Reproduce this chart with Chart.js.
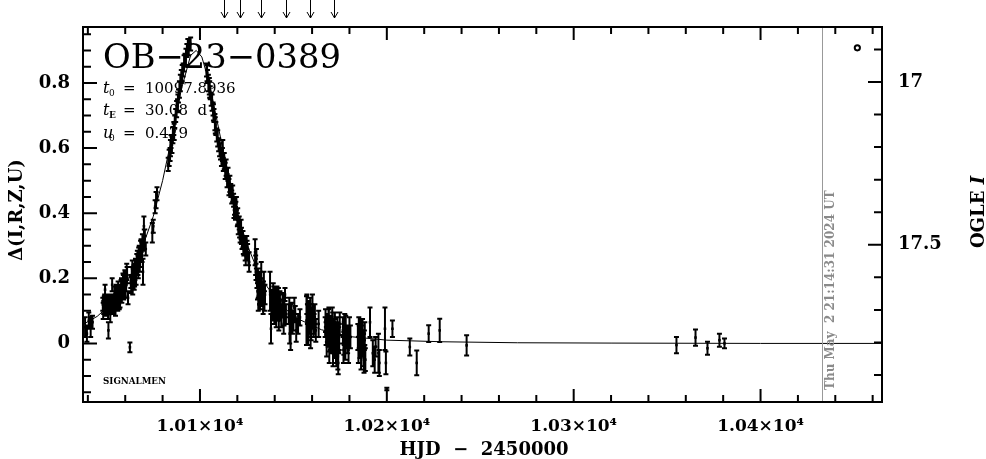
<!DOCTYPE html>
<html lang="en">
<head>
<meta charset="UTF-8" />
<title>OB-23-0389 light curve</title>
<script src="https://cdn.jsdelivr.net/npm/chart.js"></script>
<style>
  body { margin: 0; background: #fff; }
  #wrap { width: 986px; height: 459px; }
</style>
</head>
<body>
<div id="wrap"><canvas id="lc" width="986" height="459"></canvas></div>
<script>
// ---- data (HJD - 2450000, delta mag, error) ----
const hjd = [
  10038.5, 10039.5, 10040.5, 10041.5, 10042.5,
  10048.0, 10048.5, 10049.0, 10049.2, 10049.5, 10050.0, 10050.5, 10051.0, 10052.0, 10052.5, 10053.0, 10053.5,
  10054.0, 10054.5, 10055.0, 10055.5, 10056.0, 10056.5, 10057.0, 10057.5, 10058.0, 10058.5, 10059.0, 10059.5,
  10060.0, 10060.5, 10061.0, 10061.5, 10062.5,
  10063.0, 10063.5, 10064.0, 10064.5, 10065.0, 10065.5, 10066.0, 10066.5, 10067.0, 10067.5, 10068.0, 10068.5,
  10069.0, 10069.5, 10070.0, 10070.5, 10071.0,
  10074.5, 10075.0, 10076.0, 10076.5, 10077.0,
  10083.0, 10084.0, 10084.5, 10085.0, 10086.0, 10086.5, 10087.0, 10088.0, 10088.5, 10089.0, 10090.0, 10091.0,
  10092.0, 10093.0, 10094.0, 10095.0,
  10103.5, 10104.0, 10105.0, 10105.5, 10106.0, 10107.0, 10107.5, 10108.0, 10108.5, 10109.0, 10110.0, 10111.0,
  10112.0, 10112.5, 10113.0, 10114.5, 10115.0, 10115.5, 10116.5, 10117.0, 10118.0, 10118.5, 10119.0, 10119.5,
  10120.0, 10120.5, 10121.0, 10121.5, 10122.0, 10122.5, 10123.0, 10123.5, 10124.0, 10124.5, 10125.0, 10125.5, 10126.0,
  10129.5, 10130.0, 10130.5, 10131.0, 10131.2, 10131.5, 10132.0, 10132.5, 10133.0, 10133.5, 10134.0, 10134.5,
  10137.5, 10138.0, 10138.5, 10139.0, 10139.5, 10140.0, 10140.5, 10141.0, 10141.5, 10142.0, 10142.5, 10143.0,
  10144.0, 10144.5, 10145.0, 10145.5,
  10147.5, 10148.5, 10149.0, 10150.0, 10151.0, 10152.5, 10153.5,
  10157.0, 10157.5, 10158.0, 10158.5, 10159.0, 10159.5, 10160.0, 10160.5, 10161.0, 10163.5,
  10167.0, 10167.5, 10168.0, 10168.5, 10169.0, 10169.5, 10170.0, 10170.5, 10171.0, 10171.5, 10172.0, 10172.5,
  10173.0, 10173.5, 10174.0, 10174.5,
  10176.5, 10177.0, 10177.5, 10178.5, 10179.5, 10180.0,
  10184.5, 10185.0, 10185.5, 10186.0, 10186.5, 10187.0, 10187.5, 10188.0, 10188.5,
  10191.0, 10192.5, 10193.5, 10194.0, 10195.5, 10196.0,
  10199.0, 10199.5, 10200.0, 10203.0,
  10212.3, 10216.0, 10222.4, 10228.3, 10242.7,
  10355.0, 10365.2, 10371.6, 10378.0, 10380.7
];
const delta = [
  0.05, 0.03, 0.07, 0.05, 0.065,
  0.12, 0.11, 0.13, 0.165, 0.12, 0.105, 0.12, 0.04, 0.09, 0.13, 0.18, 0.11,
  0.12, 0.14, 0.13, 0.15, 0.12, 0.14, 0.16, 0.15, 0.18, 0.16, 0.19, 0.17,
  0.20, 0.18, 0.21, 0.14, -0.012,
  0.19, 0.21, 0.17, 0.22, 0.20, 0.24, 0.23, 0.26, 0.22, 0.28, 0.26, 0.30,
  0.27, 0.22, 0.36, 0.33, 0.29,
  0.34, 0.36, 0.42, 0.44, 0.46,
  0.55, 0.58, 0.62, 0.61, 0.66, 0.68, 0.70, 0.73, 0.76, 0.78, 0.82, 0.84,
  0.87, 0.90, 0.91, 0.92,
  0.84, 0.82, 0.79, 0.77, 0.75, 0.72, 0.70, 0.68, 0.66, 0.64, 0.61, 0.59,
  0.58, 0.55, 0.56, 0.50, 0.52, 0.48, 0.47, 0.45, 0.44, 0.42, 0.40, 0.43,
  0.38, 0.36, 0.37, 0.33, 0.35, 0.31, 0.32, 0.29, 0.30, 0.27, 0.31, 0.28, 0.26,
  0.28, 0.22, 0.19, 0.21, 0.12, 0.17, 0.20, 0.15, 0.18, 0.14, 0.17, 0.13,
  0.16, 0.045, 0.14, 0.12, 0.15, 0.11, 0.13, 0.10, 0.12, 0.14, 0.09, 0.11,
  0.10, 0.12, 0.08, 0.15,
  0.09, 0.05, 0.10, 0.07, 0.09, 0.06, 0.08,
  0.07, 0.09, 0.05, 0.08, 0.11, 0.04, 0.07, 0.10, 0.06, 0.06,
  0.05, 0.03, 0.06, 0.02, 0.08, 0.01, 0.04, 0.00, 0.06, 0.02, -0.01, 0.03,
  -0.03, 0.05, -0.06, 0.02,
  0.04, 0.00, 0.06, 0.02, -0.02, 0.05,
  0.02, 0.05, -0.01, 0.03, 0.00, 0.04, -0.03, 0.01, -0.05,
  0.065, -0.03, -0.05, -0.01, -0.03, -0.06,
  0.045, -0.06, -0.14, 0.045,
  -0.011, -0.06, 0.03, 0.04, -0.006,
  -0.005, 0.018, -0.015, 0.01, 0.0
];
const err = [
  0.03, 0.025, 0.025, 0.03, 0.02,
  0.02, 0.02, 0.02, 0.015, 0.015, 0.02, 0.02, 0.025, 0.025, 0.02, 0.02, 0.02,
  0.02, 0.02, 0.025, 0.02, 0.02, 0.02, 0.02, 0.025, 0.02, 0.02, 0.02, 0.025,
  0.02, 0.02, 0.025, 0.02, 0.015,
  0.02, 0.025, 0.02, 0.02, 0.025, 0.02, 0.02, 0.025, 0.02, 0.02, 0.025, 0.02,
  0.02, 0.04, 0.03, 0.02, 0.02,
  0.03, 0.02, 0.02, 0.025, 0.02,
  0.02, 0.02, 0.02, 0.025, 0.02, 0.02, 0.02, 0.02, 0.02, 0.025, 0.02, 0.02,
  0.02, 0.02, 0.025, 0.02,
  0.02, 0.02, 0.025, 0.02, 0.02, 0.02, 0.02, 0.025, 0.02, 0.02, 0.02, 0.025,
  0.02, 0.02, 0.025, 0.02, 0.02, 0.025, 0.02, 0.02, 0.02, 0.025, 0.02, 0.02,
  0.02, 0.025, 0.02, 0.02, 0.03, 0.02, 0.025, 0.02, 0.02, 0.03, 0.02, 0.025, 0.02,
  0.04, 0.025, 0.02, 0.02, 0.02, 0.025, 0.02, 0.03, 0.02, 0.025, 0.02, 0.03,
  0.06, 0.045, 0.025, 0.02, 0.025, 0.02, 0.02, 0.03, 0.02, 0.03, 0.02, 0.025,
  0.02, 0.03, 0.025, 0.02,
  0.03, 0.07, 0.025, 0.03, 0.025, 0.03, 0.025,
  0.075, 0.03, 0.03, 0.025, 0.03, 0.03, 0.025, 0.02, 0.03, 0.04,
  0.03, 0.035, 0.03, 0.03, 0.03, 0.035, 0.03, 0.03, 0.035, 0.03, 0.035, 0.03,
  0.04, 0.03, 0.035, 0.04,
  0.04, 0.035, 0.03, 0.035, 0.04, 0.03,
  0.04, 0.03, 0.035, 0.04, 0.03, 0.035, 0.04, 0.03, 0.035,
  0.045, 0.04, 0.04, 0.03, 0.06, 0.04,
  0.065, 0.035, 0.004, 0.025,
  0.026, 0.038, 0.026, 0.036, 0.031,
  0.025, 0.025, 0.02, 0.02, 0.015
];

// second pass of points read from the dense clumps
const hjd2 = [
  10048.2, 10048.8, 10049.8, 10050.2, 10050.8, 10051.5, 10052.2, 10053.2,
  10054.2, 10054.8, 10055.2, 10055.8, 10056.2, 10056.8, 10057.2, 10057.8, 10058.2, 10058.8, 10059.2, 10059.8,
  10060.2, 10060.8,
  10063.2, 10063.8, 10064.2, 10064.8, 10065.2, 10065.8, 10066.2, 10066.8, 10067.2, 10067.8, 10068.2, 10068.8,
  10069.2, 10070.2,
  10083.5, 10084.2, 10085.5, 10086.2, 10087.5, 10088.2, 10089.5, 10090.5, 10091.5, 10092.5, 10093.5,
  10103.8, 10104.5, 10105.2, 10106.5, 10107.2, 10108.2, 10109.5, 10110.5, 10111.5, 10112.2, 10113.5, 10114.0,
  10116.0, 10117.5, 10118.2, 10119.2, 10120.2, 10121.2, 10122.2, 10123.2, 10124.2, 10125.2, 10126.3,
  10129.8, 10130.2, 10130.8, 10131.8, 10132.2, 10132.8, 10133.2, 10133.8, 10134.2, 10134.8,
  10138.2, 10138.8, 10139.2, 10139.8, 10140.2, 10140.8, 10141.2, 10141.8, 10142.2, 10142.8, 10143.5, 10144.2,
  10144.8, 10145.2, 10146.0,
  10147.8, 10148.0, 10149.5, 10150.5, 10151.5,
  10157.2, 10157.8, 10158.2, 10158.8, 10159.2, 10159.8, 10160.2, 10160.8, 10161.5, 10162.0,
  10167.2, 10167.8, 10168.2, 10168.8, 10169.2, 10169.8, 10170.2, 10170.8, 10171.2, 10171.8, 10172.2, 10172.8,
  10173.2, 10173.8, 10174.2, 10174.8,
  10176.8, 10177.2, 10177.8, 10178.0, 10179.0, 10180.5,
  10184.8, 10185.2, 10185.8, 10186.2, 10186.8, 10187.2, 10187.8, 10188.2
];
const delta2 = [
  0.10, 0.125, 0.115, 0.13, 0.10, 0.12, 0.11, 0.12,
  0.15, 0.11, 0.16, 0.13, 0.17, 0.13, 0.14, 0.17, 0.15, 0.19, 0.16, 0.20,
  0.17, 0.22,
  0.18, 0.23, 0.20, 0.19, 0.22, 0.21, 0.25, 0.24, 0.27, 0.25, 0.29, 0.28,
  0.31, 0.32,
  0.57, 0.60, 0.64, 0.65, 0.72, 0.74, 0.80, 0.83, 0.86, 0.88, 0.91,
  0.83, 0.80, 0.78, 0.74, 0.71, 0.67, 0.63, 0.60, 0.57, 0.60, 0.53, 0.54,
  0.49, 0.46, 0.41, 0.41, 0.39, 0.35, 0.33, 0.30, 0.28, 0.29, 0.25,
  0.24, 0.26, 0.16, 0.19, 0.13, 0.22, 0.16, 0.12, 0.19, 0.15,
  0.12, 0.10, 0.16, 0.09, 0.14, 0.08, 0.15, 0.10, 0.07, 0.13, 0.08, 0.13,
  0.06, 0.11, 0.09,
  0.11, 0.03, 0.06, 0.11, 0.04,
  0.12, 0.03, 0.10, 0.06, 0.02, 0.08, 0.12, 0.05, 0.09, 0.04,
  0.07, 0.00, 0.04, 0.07, -0.02, 0.05, 0.02, 0.08, -0.03, 0.04, 0.06, -0.02,
  0.03, -0.04, 0.01, 0.06,
  -0.02, 0.03, -0.01, 0.05, 0.01, 0.02,
  -0.02, 0.02, 0.04, -0.04, 0.02, 0.00, -0.05, 0.03
];
const err2 = [
  0.025, 0.02, 0.02, 0.02, 0.025, 0.025, 0.02, 0.025,
  0.025, 0.025, 0.02, 0.025, 0.02, 0.025, 0.03, 0.025, 0.025, 0.025, 0.025, 0.025,
  0.03, 0.025,
  0.025, 0.025, 0.03, 0.025, 0.025, 0.03, 0.025, 0.03, 0.025, 0.03, 0.025, 0.03,
  0.025, 0.03,
  0.025, 0.025, 0.025, 0.025, 0.025, 0.025, 0.025, 0.025, 0.025, 0.025, 0.025,
  0.025, 0.025, 0.025, 0.025, 0.025, 0.025, 0.025, 0.025, 0.025, 0.025, 0.025, 0.025,
  0.025, 0.025, 0.025, 0.025, 0.025, 0.025, 0.025, 0.025, 0.025, 0.025, 0.03,
  0.03, 0.03, 0.025, 0.03, 0.025, 0.03, 0.03, 0.03, 0.03, 0.03,
  0.03, 0.03, 0.025, 0.03, 0.03, 0.03, 0.025, 0.03, 0.03, 0.03, 0.03, 0.025,
  0.03, 0.03, 0.03,
  0.03, 0.03, 0.03, 0.03, 0.035,
  0.03, 0.035, 0.03, 0.03, 0.035, 0.03, 0.03, 0.03, 0.03, 0.035,
  0.035, 0.04, 0.035, 0.035, 0.04, 0.035, 0.04, 0.03, 0.04, 0.035, 0.035, 0.04,
  0.035, 0.04, 0.04, 0.035,
  0.04, 0.035, 0.04, 0.035, 0.04, 0.035,
  0.04, 0.035, 0.035, 0.04, 0.035, 0.04, 0.04, 0.035
];

// model curve
const modelHjd = [10037, 10045, 10055, 10065, 10075, 10080, 10085, 10090, 10095, 10098, 10101, 10105,
  10110, 10115, 10120, 10125, 10130, 10135, 10140, 10150, 10165, 10180, 10200, 10230, 10270, 10320, 10400, 10465];
const modelDelta = [0.057, 0.083, 0.135, 0.227, 0.39, 0.50, 0.635, 0.78, 0.885, 0.90, 0.88, 0.80,
  0.66, 0.52, 0.40, 0.307, 0.236, 0.182, 0.141, 0.082, 0.042, 0.021, 0.010, 0.005, 0.002, 0.001, 0.0, 0.0];

const markHjd = [10451.8];
const markDelta = [0.908];
const arrowHjd = [10112.8, 10121.4, 10132.6, 10146.0, 10158.8, 10171.6];
const nowHjd = 10433.1;
const magZero = 17.803;   // OGLE I = magZero - delta

const allHjd = hjd.concat(hjd2);
const allDelta = delta.concat(delta2);
const allErr = err.concat(err2);

const xMin = 10037.4, xMax = 10465;
const yMin = -0.18, yMax = 0.972;

const FONT = 'DejaVu Serif';

function isMult(v, m) {
  return Math.abs(v / m - Math.round(v / m)) < 1e-6;
}

const errorBars = {
  id: 'errorBars',
  beforeDatasetsDraw(chart) {
    const { ctx, scales: { x, y } } = chart;
    ctx.save();
    ctx.strokeStyle = '#000';
    ctx.lineWidth = 2;
    ctx.beginPath();
    for (let i = 0; i < allHjd.length; i++) {
      const px = x.getPixelForValue(allHjd[i]);
      const y1 = y.getPixelForValue(allDelta[i] + allErr[i]);
      const y2 = y.getPixelForValue(allDelta[i] - allErr[i]);
      ctx.moveTo(px, y1); ctx.lineTo(px, y2);
      ctx.moveTo(px - 2.5, y1); ctx.lineTo(px + 2.5, y1);
      ctx.moveTo(px - 2.5, y2); ctx.lineTo(px + 2.5, y2);
    }
    ctx.stroke();
    ctx.restore();
  }
};

const frame = {
  id: 'frame',
  afterDraw(chart) {
    const { ctx, chartArea: a, scales } = chart;
    const x = scales.x, y = scales.y, y2 = scales.y2;
    ctx.save();

    // now line
    const nx = Math.round(x.getPixelForValue(nowHjd)) + 0.5;
    ctx.strokeStyle = '#999';
    ctx.lineWidth = 1;
    ctx.beginPath();
    ctx.moveTo(nx, a.top); ctx.lineTo(nx, a.bottom);
    ctx.stroke();

    // frame + inward ticks
    ctx.strokeStyle = '#000';
    ctx.lineWidth = 2;
    ctx.strokeRect(a.left, a.top, a.right - a.left, a.bottom - a.top);
    ctx.beginPath();
    x.ticks.forEach(t => {
      const px = x.getPixelForValue(t.value);
      const len = isMult(t.value, 100) ? 13 : 7;
      ctx.moveTo(px, a.bottom); ctx.lineTo(px, a.bottom - len);
      ctx.moveTo(px, a.top); ctx.lineTo(px, a.top + len);
    });
    y.ticks.forEach(t => {
      const py = y.getPixelForValue(t.value);
      const len = isMult(t.value, 0.2) ? 14 : 8;
      ctx.moveTo(a.left, py); ctx.lineTo(a.left + len, py);
    });
    y2.ticks.forEach(t => {
      const py = y2.getPixelForValue(t.value);
      const len = isMult(t.value, 0.5) ? 14 : 8;
      ctx.moveTo(a.right, py); ctx.lineTo(a.right - len, py);
    });
    ctx.stroke();

    // arrows above the frame
    ctx.lineWidth = 1;
    ctx.beginPath();
    arrowHjd.forEach(v => {
      const px = Math.round(x.getPixelForValue(v)) + 0.5;
      ctx.moveTo(px, 0); ctx.lineTo(px, 18);
      ctx.moveTo(px - 3.5, 12); ctx.lineTo(px, 18); ctx.lineTo(px + 3.5, 12);
    });
    ctx.stroke();

    ctx.fillStyle = '#000';
    ctx.textBaseline = 'alphabetic';
    ctx.textAlign = 'left';

    // event name
    ctx.font = '34px ' + FONT;
    ctx.fillText('OB\u221223\u22120389', 103, 68, 238);

    // parameters
    const param = (sym, sub, subBold, val, base) => {
      ctx.font = 'italic 16px ' + FONT;
      ctx.fillText(sym, 103, base);
      ctx.font = (subBold ? 'bold ' : '') + '9px ' + FONT;
      ctx.fillText(sub, 109, base + 3);
      ctx.font = '15px ' + FONT;
      ctx.fillText('=', 123, base);
      ctx.fillText(val, 145, base);
    };
    param('t', '0', false, '10097.8936', 93);
    param('t', 'E', true, '30.08  d', 115);
    param('u', '0', false, '0.479', 138);

    ctx.font = 'bold 9px ' + FONT;
    ctx.fillText('SIGNALMEN', 103, 384, 63);

    // axis titles
    ctx.font = 'bold 18px ' + FONT;
    ctx.textAlign = 'center';
    ctx.fillText('HJD  \u2212  2450000', 484, 455);

    ctx.save();
    ctx.translate(22, 210);
    ctx.rotate(-Math.PI / 2);
    ctx.fillText('\u0394(I,R,Z,U)', 0, 0);
    ctx.restore();

    ctx.save();
    ctx.translate(984, 212);
    ctx.rotate(-Math.PI / 2);
    ctx.textAlign = 'left';
    ctx.font = 'bold 18px ' + FONT;
    const w1 = ctx.measureText('OGLE ').width;
    ctx.font = 'bold italic 18px ' + FONT;
    const w2 = ctx.measureText('I').width;
    ctx.font = 'bold 18px ' + FONT;
    ctx.fillText('OGLE ', -(w1 + w2) / 2, 0);
    ctx.font = 'bold italic 18px ' + FONT;
    ctx.fillText('I', -(w1 + w2) / 2 + w1, 0);
    ctx.restore();

    // timestamp
    ctx.save();
    ctx.translate(834, 390);
    ctx.rotate(-Math.PI / 2);
    ctx.textAlign = 'left';
    ctx.fillStyle = '#8a8a8a';
    ctx.font = 'bold 12px ' + FONT;
    ctx.fillText('Thu May  2 21:14:31 2024 UT', 0, 0, 203);
    ctx.restore();

    ctx.restore();
  }
};

const tickFont = { family: FONT, weight: 'bold', size: 18 };
const noGrid = { display: false, drawTicks: false };

new Chart(document.getElementById('lc').getContext('2d'), {
  data: {
    datasets: [
      {
        type: 'line',
        data: modelHjd.map((t, i) => ({ x: t, y: modelDelta[i] })),
        borderColor: '#000',
        borderWidth: 1,
        pointRadius: 0,
        tension: 0
      },
      {
        type: 'scatter',
        data: allHjd.map((t, i) => ({ x: t, y: allDelta[i] })),
        pointStyle: 'rect',
        pointRadius: 1.8,
        backgroundColor: '#000',
        borderWidth: 0
      },
      {
        type: 'scatter',
        data: markHjd.map((t, i) => ({ x: t, y: markDelta[i] })),
        pointStyle: 'circle',
        pointRadius: 2.6,
        borderWidth: 2,
        borderColor: '#000',
        backgroundColor: '#fff'
      }
    ]
  },
  options: {
    responsive: false,
    animation: false,
    devicePixelRatio: 1,
    layout: { padding: 0 },
    plugins: { legend: { display: false }, tooltip: { enabled: false } },
    scales: {
      x: {
        type: 'linear', position: 'bottom', min: xMin, max: xMax,
        afterFit: s => { s.height = 57; },
        grid: noGrid, border: { display: false },
        ticks: {
          stepSize: 20, includeBounds: false, autoSkip: false, maxRotation: 0,
          padding: 14, color: '#000', font: { family: FONT, weight: 'bold', size: 17 },
          callback: v => isMult(v, 100) ? (v / 10000).toFixed(2) + '\u00d710\u2074' : ''
        }
      },
      x2: {
        type: 'linear', position: 'top', min: xMin, max: xMax,
        afterFit: s => { s.height = 27; },
        grid: noGrid, border: { display: false },
        ticks: { stepSize: 20, includeBounds: false, callback: () => '' }
      },
      y: {
        type: 'linear', position: 'left', min: yMin, max: yMax,
        afterFit: s => { s.width = 83; },
        grid: noGrid, border: { display: false },
        ticks: {
          stepSize: 0.05, includeBounds: false, autoSkip: false,
          padding: 13, color: '#000', font: tickFont,
          callback: v => isMult(v, 0.2) ? (Math.abs(v) < 1e-9 ? '0' : v.toFixed(1)) : ''
        }
      },
      y2: {
        type: 'linear', position: 'right', reverse: true,
        min: magZero - yMax, max: magZero - yMin,
        afterFit: s => { s.width = 104; },
        grid: noGrid, border: { display: false },
        ticks: {
          stepSize: 0.1, includeBounds: false, autoSkip: false,
          padding: 16, color: '#000', font: tickFont,
          callback: v => isMult(v, 0.5) ? String(+v.toFixed(1)) : ''
        }
      }
    }
  },
  plugins: [errorBars, frame]
});
</script>
</body>
</html>
